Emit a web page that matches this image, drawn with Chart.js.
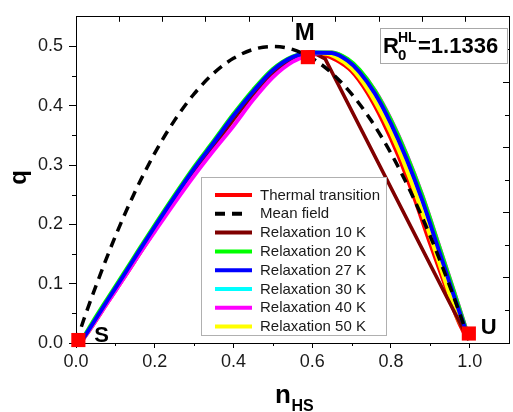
<!DOCTYPE html>
<html><head><meta charset="utf-8">
<script src="https://cdn.jsdelivr.net/npm/chart.js@4.4.1/dist/chart.umd.min.js"></script>
<style>
html,body{margin:0;padding:0;background:#fff;overflow:hidden;width:513px;height:412px}
#wrap{position:relative;width:519px;height:412px}
</style>
</head><body><div id="wrap"><canvas id="c" width="519" height="412"></canvas></div>
<script>
// ---------------- data ----------------
const xTicks = [0.0, 0.2, 0.4, 0.6, 0.8, 1.0];
const yTicks = [0.0, 0.1, 0.2, 0.3, 0.4, 0.5];
const xMinorTicks = [0.1, 0.3, 0.5, 0.7, 0.9];
const yMinorTicks = [0.05, 0.15, 0.25, 0.35, 0.45];
const topTicks = [0, 0.1, 0.2, 0.3, 0.4, 0.5, 0.6, 0.7, 0.8, 0.9, 1.0];
const rightMajorTicks = [0, 0.2, 0.4, 0.6, 0.8, 1.0];
const rightMinorTicks = [0.1, 0.3, 0.5, 0.7, 0.9];

const seriesLabels = ['Thermal transition', 'Mean field', 'Relaxation 10 K', 'Relaxation 20 K',
  'Relaxation 27 K', 'Relaxation 30 K', 'Relaxation 40 K', 'Relaxation 50 K'];

const thermalN = [0.015,0.04,0.08,0.12,0.16,0.2,0.25,0.3,0.35,0.4,0.45,0.5,0.55,0.6,0.63,0.66,0.7,0.74,0.78,0.82,0.86,0.9,0.94,0.97,0.99];
const thermalQ = [0.004,0.028,0.069,0.109,0.15,0.191,0.241,0.289,0.333,0.378,0.42,0.456,0.479,0.488,0.486,0.478,0.459,0.423,0.374,0.315,0.245,0.168,0.094,0.04,0.012];

const meanN = [0,0.02,0.05,0.1,0.15,0.2,0.25,0.3,0.35,0.4,0.45,0.5,0.55,0.6,0.65,0.7,0.75,0.8,0.85,0.9,0.95,0.98,1.0];
const meanQ = [0,0.04,0.095,0.18,0.255,0.32,0.375,0.42,0.455,0.48,0.495,0.5,0.495,0.48,0.455,0.42,0.375,0.32,0.255,0.18,0.095,0.04,0];

const relax10N = [0.015,0.04,0.08,0.12,0.16,0.2,0.25,0.3,0.35,0.4,0.45,0.5,0.55,0.58,0.61,0.633,0.99];
const relax10Q = [0.004,0.029,0.07,0.11,0.151,0.191,0.24,0.288,0.332,0.377,0.419,0.455,0.478,0.486,0.487,0.479,0.015];

const relaxN = [0.015,0.04,0.08,0.12,0.16,0.2,0.25,0.3,0.35,0.4,0.45,0.5,0.55,0.6,0.65,0.69,0.72,0.76,0.8,0.84,0.88,0.92,0.96,0.99];
const relax20Q = [0.005,0.033,0.075,0.116,0.158,0.199,0.249,0.297,0.341,0.386,0.427,0.462,0.483,0.49,0.49,0.479,0.461,0.425,0.376,0.317,0.248,0.168,0.087,0.025];
const relax27Q = [0.004,0.03,0.072,0.113,0.155,0.196,0.246,0.294,0.338,0.383,0.424,0.46,0.482,0.49,0.489,0.476,0.457,0.42,0.37,0.31,0.24,0.16,0.08,0.022];
const relax30Q = [0.004,0.029,0.071,0.111,0.153,0.194,0.244,0.292,0.336,0.381,0.422,0.458,0.481,0.489,0.489,0.477,0.459,0.422,0.372,0.312,0.242,0.162,0.082,0.023];
const relax40Q = [0.004,0.028,0.068,0.108,0.149,0.188,0.236,0.282,0.325,0.366,0.41,0.448,0.474,0.487,0.49,0.478,0.46,0.425,0.377,0.318,0.249,0.169,0.088,0.026];

const relax50N = [0.015,0.04,0.08,0.12,0.16,0.2,0.25,0.3,0.35,0.4,0.45,0.5,0.55,0.6,0.63,0.66,0.7,0.74,0.78,0.82,0.86,0.9,0.94,0.97,0.993];
const relax50Q = [0.004,0.028,0.069,0.109,0.15,0.19,0.24,0.288,0.332,0.377,0.419,0.455,0.479,0.488,0.488,0.482,0.463,0.429,0.382,0.325,0.257,0.18,0.1,0.041,0.018];

const stateN = [0.006, 0.589, 0.998];
const stateQ = [0.005, 0.482, 0.016];
const stateNames = ['S', 'M', 'U'];
const ratioText = '=1.1336';

// ---------------- chart ----------------
const FONT = "'Liberation Sans', Arial, sans-serif";
function pts(N, Q) { return N.map((n, i) => ({ x: n, y: Q[i] })); }

function lineDs(label, N, Q, color, order, extra) {
  return Object.assign({
    label, data: pts(N, Q), borderColor: color, backgroundColor: color,
    borderWidth: 4, pointRadius: 0, fill: false, order,
    cubicInterpolationMode: 'monotone', borderJoinStyle: 'round', inLegend: true
  }, extra || {});
}

const datasets = [
  lineDs(seriesLabels[0], thermalN, thermalQ, '#ff0000', 8, { borderWidth: 4.5 }),
  lineDs(seriesLabels[1], meanN, meanQ, '#000000', 1, { borderWidth: 3.5, borderDash: [10, 7] }),
  lineDs(seriesLabels[2], relax10N, relax10Q, '#800000', 5, { cubicInterpolationMode: 'default', tension: 0, borderWidth: 3.5 }),
  lineDs(seriesLabels[3], relaxN, relax20Q, '#00ff00', 3),
  lineDs(seriesLabels[4], relaxN, relax27Q, '#0000ff', 2),
  lineDs(seriesLabels[5], relaxN, relax30Q, '#00ffff', 6),
  lineDs(seriesLabels[6], relaxN, relax40Q, '#ff00ff', 4),
  lineDs(seriesLabels[7], relax50N, relax50Q, '#ffff00', 7),
  {
    label: 'states', data: pts(stateN, stateQ), showLine: false, pointStyle: 'rect',
    pointRadius: 10, pointBackgroundColor: '#ff0000', pointBorderWidth: 0, clip: false, order: 0, inLegend: false
  }
];

const overlay = {
  id: 'overlay',
  afterDraw(chart) {
    const ctx = chart.ctx, a = chart.chartArea;
    const { x, y, y2 } = chart.scales;
    ctx.save();
    // minor ticks
    ctx.strokeStyle = '#000'; ctx.lineWidth = 1;
    ctx.beginPath();
    xMinorTicks.forEach(v => { const p = Math.round(x.getPixelForValue(v)) + 0.5; ctx.moveTo(p, a.bottom); ctx.lineTo(p, a.bottom + 3); });
    yMinorTicks.forEach(v => { const p = Math.round(y.getPixelForValue(v)) + 0.5; ctx.moveTo(a.left - 4, p); ctx.lineTo(a.left, p); });
    rightMinorTicks.forEach(v => { const p = Math.round(y2.getPixelForValue(v)) + 0.5; ctx.moveTo(a.right - 4, p); ctx.lineTo(a.right, p); });
    ctx.stroke();

    // state labels S, M, U
    ctx.fillStyle = '#000';
    ctx.textBaseline = 'alphabetic';
    const offs = { S: [16, 1.7, 'left', 22], M: [-3, -16.7, 'center', 24], U: [12, 0, 'left', 22] };
    stateNames.forEach((s, i) => {
      const px = x.getPixelForValue(stateN[i]), py = y.getPixelForValue(stateQ[i]);
      const o = offs[s];
      ctx.font = 'bold ' + o[3] + 'px ' + FONT;
      ctx.textAlign = o[2];
      ctx.fillText(s, px + o[0], py + o[1]);
    });

    // R0 box
    ctx.fillStyle = '#fff'; ctx.fillRect(380.5, 28.5, 127, 35);
    ctx.strokeStyle = '#a8a8a8'; ctx.strokeRect(380.5, 28.5, 127, 35);
    ctx.fillStyle = '#000'; ctx.textAlign = 'left';
    ctx.font = 'bold 22px ' + FONT; ctx.fillText('R', 383, 53.3);
    ctx.font = 'bold 14px ' + FONT; ctx.fillText('HL', 398, 42);
    ctx.font = 'bold 15px ' + FONT; ctx.fillText('0', 398, 59.5);
    ctx.font = 'bold 22px ' + FONT; ctx.fillText(ratioText, 418, 53.3);

    // legend
    ctx.fillStyle = '#fff'; ctx.fillRect(201.5, 177.5, 185, 158);
    ctx.strokeStyle = '#b0b0b0'; ctx.lineWidth = 1; ctx.strokeRect(201.5, 177.5, 185, 158);
    const items = chart.data.datasets.filter(d => d.inLegend);
    ctx.font = '15px ' + FONT; ctx.textBaseline = 'middle';
    items.forEach((d, i) => {
      const cy = 195 + i * 18.8;
      ctx.save();
      ctx.strokeStyle = d.borderColor; ctx.lineWidth = 4;
      ctx.setLineDash(d.borderDash || []);
      ctx.beginPath(); ctx.moveTo(215, cy); ctx.lineTo(d.borderDash ? 244 : 252, cy); ctx.stroke();
      ctx.restore();
      ctx.fillStyle = '#1a1a1a';
      ctx.fillText(d.label, 260, cy + 0.5);
    });

    // axis titles
    ctx.fillStyle = '#000'; ctx.textBaseline = 'alphabetic';
    ctx.save();
    ctx.translate(25.8, 177.5); ctx.rotate(-Math.PI / 2);
    ctx.textAlign = 'center'; ctx.font = 'bold 24px ' + FONT;
    ctx.fillText('q', 0, 0);
    ctx.restore();
    ctx.textAlign = 'left';
    ctx.font = 'bold 26px ' + FONT; ctx.fillText('n', 275, 402.5);
    ctx.font = 'bold 16px ' + FONT; ctx.fillText('HS', 291.5, 411.3);
    ctx.restore();
  }
};

const setTicks = arr => s => { s.ticks = arr.map(v => ({ value: v })); };
const tickFont = { family: FONT, size: 18 };

new Chart(document.getElementById('c'), {
  type: 'line',
  data: { datasets },
  options: {
    responsive: false, animation: false, devicePixelRatio: 1, events: [],
    layout: { padding: 0 },
    plugins: { legend: { display: false }, tooltip: { enabled: false } },
    scales: {
      x: {
        type: 'linear', position: 'bottom', min: 0, max: 1.1,
        afterBuildTicks: setTicks(xTicks), afterFit: s => { s.height = 69; },
        ticks: { font: tickFont, color: '#1a1a1a', padding: 3, maxRotation: 0, callback: v => v.toFixed(1) },
        grid: { drawOnChartArea: false, tickLength: 5, color: '#000', tickColor: '#000' },
        border: { display: true, color: '#000', width: 1 }
      },
      y: {
        type: 'linear', position: 'left', min: 0, max: 0.55,
        afterBuildTicks: setTicks(yTicks), afterFit: s => { s.width = 76; },
        ticks: { font: tickFont, color: '#1a1a1a', padding: 6, callback: v => v.toFixed(1) },
        grid: { drawOnChartArea: false, tickLength: 7, color: '#000', tickColor: '#000' },
        border: { display: true, color: '#000', width: 1 }
      },
      x2: {
        type: 'linear', position: 'top', min: 0, max: 1,
        afterBuildTicks: setTicks(topTicks), afterFit: s => { s.height = 16; },
        ticks: { display: false },
        grid: { drawOnChartArea: false, tickLength: -5, color: '#000', tickColor: '#000' },
        border: { display: true, color: '#000', width: 1 }
      },
      y2: {
        type: 'linear', position: 'right', min: 0, max: 1,
        afterBuildTicks: setTicks(rightMajorTicks), afterFit: s => { s.width = 4; },
        ticks: { display: false },
        grid: { drawOnChartArea: false, tickLength: -6, color: '#000', tickColor: '#000' },
        border: { display: true, color: '#000', width: 1 }
      }
    }
  },
  plugins: [overlay]
});
</script>
</body></html>
